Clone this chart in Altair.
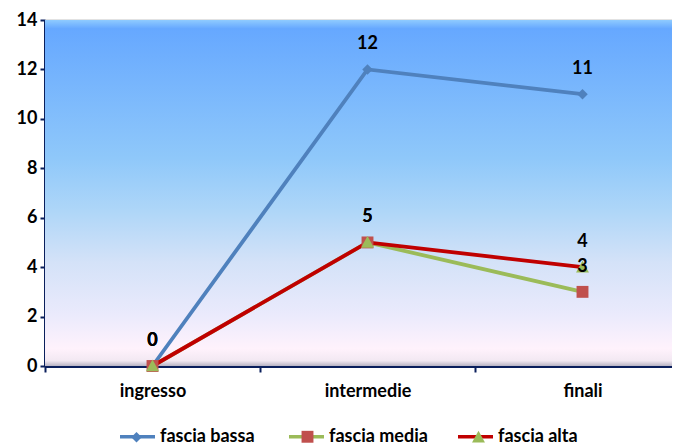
import altair as alt
import pandas as pd

categories = ["ingresso", "intermedie", "finali"]
series_names = ["fascia bassa", "fascia media", "fascia alta"]
fascia_bassa = [0, 12, 11]
fascia_media = [0, 5, 3]
fascia_alta = [0, 5, 4]

line_colors = ["#4F81BD", "#9BBB59", "#C00000"]
marker_colors = ["#4F81BD", "#C0504D", "#9BBB59"]
marker_paths = [
    "M0,-0.3L0.3,0L0,0.3L-0.3,0Z",
    "M-0.34,-0.34H0.34V0.34H-0.34Z",
    "M0,-0.37L0.37,0.3H-0.37Z",
]

rows = []
for name, vals in zip(series_names, [fascia_bassa, fascia_media, fascia_alta]):
    for c, v in zip(categories, vals):
        rows.append({"cat": c, "serie": name, "val": v})
df = pd.DataFrame(rows)

W, H = 627, 346
FONT = "Lato"
FS = 18

x_enc = alt.X("cat:N", sort=categories,
              scale=alt.Scale(range=[0, 645], paddingInner=0, paddingOuter=0),
              axis=alt.Axis(title=None, labelAngle=0, tickBand="extent", tickSize=6,
                            domainColor="#0A1F5C", domainWidth=3, tickColor="#0A1F5C",
                            tickWidth=2, labelPadding=10, labelFontSize=FS,
                            labelFontWeight="bold", labelFont=FONT, labelColor="#000",
                            grid=False))
y_enc = alt.Y("val:Q", scale=alt.Scale(domain=[0, 14], nice=False),
              axis=alt.Axis(title=None, values=list(range(0, 15, 2)), tickSize=5,
                            domainColor="#0A1F5C", domainWidth=3, tickColor="#0A1F5C",
                            tickWidth=2, labelPadding=3, labelFontSize=FS,
                            labelFontWeight="bold", labelFont=FONT, labelColor="#000",
                            grid=True, gridColor="#8A8A8A", gridWidth=1.5))

bg = alt.Chart(pd.DataFrame({"a": [0]})).mark_rect(
    fill=alt.Gradient(
        gradient="linear", x1=0, y1=0, x2=0, y2=1,
        stops=[
            alt.GradientStop(offset=0.0, color="#8FCBFF"),
            alt.GradientStop(offset=0.025, color="#66A8FF"),
            alt.GradientStop(offset=0.4, color="#8FC8FA"),
            alt.GradientStop(offset=0.55, color="#AED6F8"),
            alt.GradientStop(offset=0.7, color="#D4E2F8"),
            alt.GradientStop(offset=0.85, color="#EAEAFC"),
            alt.GradientStop(offset=0.95, color="#FFF2FC"),
            alt.GradientStop(offset=0.985, color="#F2E8F2"),
            alt.GradientStop(offset=1.0, color="#B8B4C4"),
        ],
    )
).encode(x=alt.value(0), x2=alt.value(W), y=alt.value(0), y2=alt.value(H))

LX, LY = 73, 397
COLPAD = 23

lines = alt.Chart(df).mark_line(strokeWidth=3.8).encode(
    x=x_enc, y=y_enc,
    color=alt.Color("serie:N", sort=series_names,
                    scale=alt.Scale(domain=series_names, range=line_colors),
                    legend=alt.Legend(title=None, orient="none", direction="horizontal",
                                      legendX=LX, legendY=LY, symbolType="M-1,0H1",
                                      symbolSize=1225, symbolStrokeWidth=3.5,
                                      labelOffset=3, columns=3, gridAlign="all",
                                      columnPadding=COLPAD, padding=0)),
)

points = alt.Chart(df).mark_point(filled=True, size=1225, opacity=1).encode(
    x=x_enc, y=y_enc,
    fill=alt.Fill("serie:N", sort=series_names,
                  scale=alt.Scale(domain=series_names, range=marker_colors),
                  legend=alt.Legend(title=None, orient="none", direction="horizontal",
                                    legendX=LX - 1, legendY=LY, symbolSize=1225,
                                    symbolStrokeWidth=3.5, symbolStrokeColor="transparent",
                                    symbolOpacity=1, labelExpr="''", labelOffset=0,
                                    columns=3, gridAlign="all",
                                    columnPadding=COLPAD + 3 + 106, padding=0)),
    shape=alt.Shape("serie:N", sort=series_names,
                    scale=alt.Scale(domain=series_names, range=marker_paths)),
)

labels = alt.Chart(df).mark_text(dy=-25, fontSize=FS, fontWeight="bold", font=FONT,
                                 color="#000").encode(
    x=x_enc, y=y_enc, text="val:Q"
)

chart = alt.layer(bg, lines, points, labels).resolve_scale(
    color="independent", fill="independent", shape="independent"
).properties(
    width=W, height=H,
    autosize=alt.AutoSizeParams(type="none"),
    padding={"left": 37, "top": 12, "right": 0, "bottom": 82},
).configure_view(stroke=None).configure(background="#FFFFFF").configure_legend(
    labelFontSize=FS, labelFontWeight="bold", labelFont=FONT, labelColor="#000"
)

chart.save("out.html", embed_options={"renderer": "svg", "actions": False})
